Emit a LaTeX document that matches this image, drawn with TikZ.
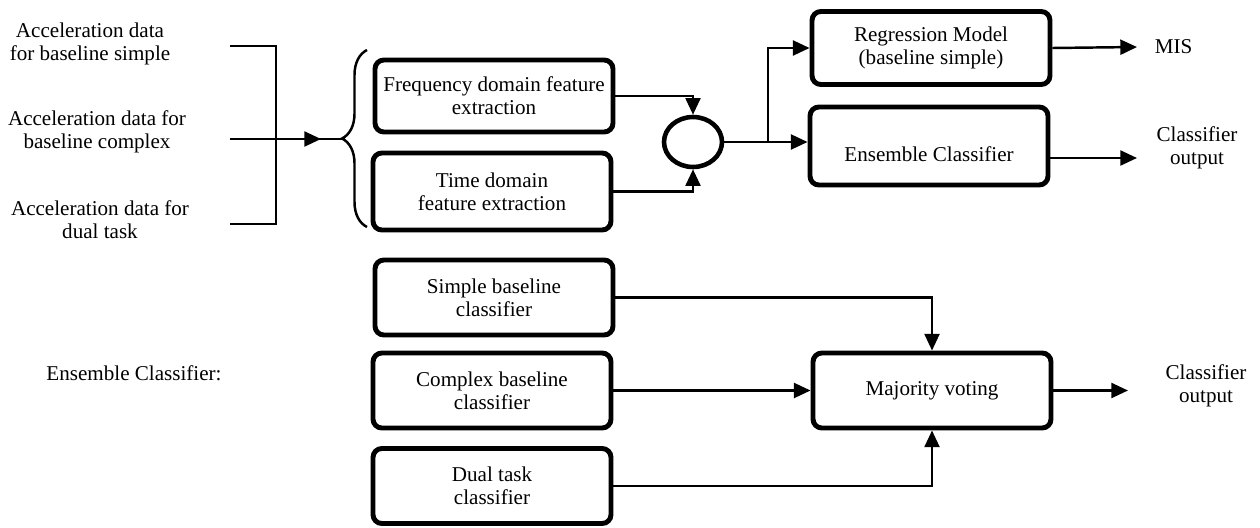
\documentclass[tikz,border=0pt]{standalone}
\usepackage{fontspec}
\setmainfont{Liberation Serif}
\usetikzlibrary{arrows.meta,shapes.geometric,decorations.pathreplacing}
\tikzset{
    txt/.style={align=center, font=\fontsize{12pt}{13pt}\selectfont},
    block/.style={txt, draw, line width=2.8pt, rounded corners=5pt,
        minimum width=4.76cm, minimum height=1.5cm},
    conn/.style={line width=1.4pt},
    arrow/.style={conn, -{Triangle[length=9.5pt,width=8.5pt]}},
}
\begin{document}
\begin{tikzpicture}[x=0.02cm, y=-0.02cm]
    \useasboundingbox (0,0) rectangle (1260,527);
    % Inputs
    \node[txt] (inSimple) at (90,44) {Acceleration data\\for baseline simple};
    \node[txt] (inComplex) at (97,132) {Acceleration data for\\baseline complex};
    \node[txt] (inDual) at (100,220) {Acceleration data for\\dual task};
    \draw[conn] (230,46) -- (276,46) -- (276,224) -- (230,224);
    \coordinate (inStart) at (230,139);
    \coordinate (inTip) at (321,139);
    \coordinate (braceTip) at (342,139);
    \draw[conn] (inStart) -- (braceTip);
    \draw[arrow] (inStart) -- (inTip);
    \draw[conn, decorate, decoration={brace, amplitude=0.5cm}] (367,227) -- (367,50);
    % Feature extraction
    \node[block, minimum height=1.44cm] (freq) at (494,96) {Frequency domain feature\\extraction};
    \node[block, minimum height=1.54cm] (time) at (492,191.5) {Time domain\\feature extraction};
    \node[draw, ellipse, line width=2.6pt, minimum width=1.16cm, minimum height=1.0cm] (sum) at (693,142) {};
    \draw[arrow] (freq.east) -| (sum.north);
    \draw[arrow] (time.east) -| (sum.south);
    % Models
    \node[block, minimum height=1.46cm] (reg) at (931,48) {Regression Model\\(baseline simple)};
    \node[block, minimum height=1.56cm, text height=18pt, text depth=0pt] (ens) at (929,146) {Ensemble Classifier};
    \coordinate (split) at (768,142);
    \draw[conn] (sum.east) -- (split);
    \draw[arrow] (split) |- (reg.west);
    \draw[arrow] (split) -- (split -| ens.west);
    \node[txt, anchor=west, inner xsep=10pt] (mis) at (1137,47) {MIS};
    \node[txt] (out1) at (1197,148) {Classifier\\output};
    \coordinate (ensOut) at (1137,158);
    \draw[arrow] (reg.east) -- (mis.west);
    \draw[arrow] (ens.east |- ensOut) -- (ensOut);
    % Ensemble detail
    \node[txt] (ensLabel) at (134,373) {Ensemble Classifier:};
    \foreach \n/\x/\y/\lab in {simple/494/297.5/{Simple baseline\\classifier},
        complex/492/390.5/{Complex baseline\\classifier},
        dual/492/486/{Dual task\\classifier}} {
        \node[block] (\n) at (\x,\y) {\lab};
    }
    \node[block] (vote) at (932,390.5) {Majority voting};
    \draw[arrow] (simple.east) -| (vote.north);
    \draw[arrow] (complex.east) -- (vote.west);
    \draw[arrow] (dual.east) -| (vote.south);
    \node[txt] (out2) at (1206,386) {Classifier\\output};
    \coordinate (voteOut) at (1128,390.5);
    \draw[arrow] (vote.east) -- (voteOut);
\end{tikzpicture}
\end{document}
